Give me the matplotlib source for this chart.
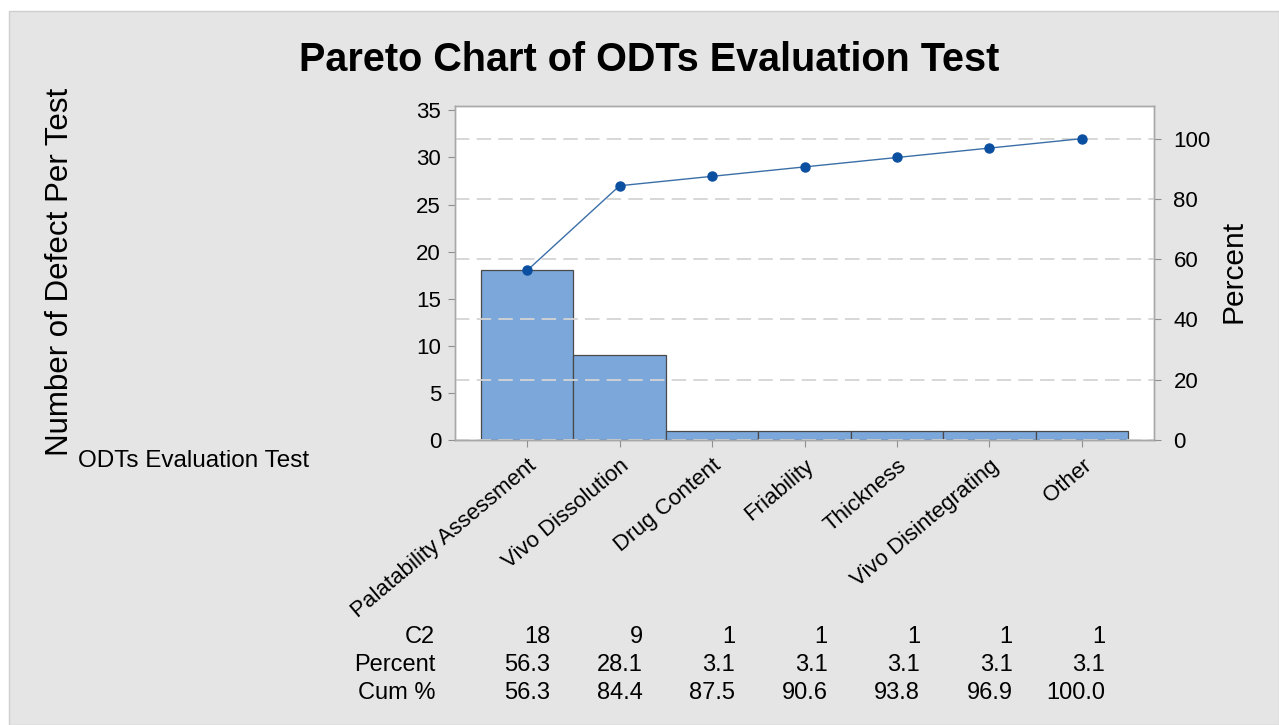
import matplotlib
matplotlib.use("Agg")
import matplotlib.pyplot as plt
import numpy as np
from matplotlib.patches import Rectangle

# data
categories = ['Palatability Assessment', 'Vivo Dissolution', 'Drug Content',
              'Friability', 'Thickness', 'Vivo Disintegrating', 'Other']
counts = [18, 9, 1, 1, 1, 1, 1]
percent_labels = ['56.3', '28.1', '3.1', '3.1', '3.1', '3.1', '3.1']
cum_labels = ['56.3', '84.4', '87.5', '90.6', '93.8', '96.9', '100.0']
left_ticks = [0, 5, 10, 15, 20, 25, 30, 35]
right_ticks = [0, 20, 40, 60, 80, 100]

plt.rcParams['font.family'] = ['Liberation Sans', 'DejaVu Sans']

W, H = 1279, 725
fig = plt.figure(figsize=(W / 100, H / 100), dpi=100)
fig.patch.set_facecolor('white')
# gray panel like the Minitab graph window
fig.patches.append(Rectangle((9 / W, 0), 1 - 9 / W, 1 - 11 / H, transform=fig.transFigure,
                             facecolor='#e5e5e5', edgecolor='#cfcfcf', lw=1, zorder=-10))

ax = fig.add_axes([455 / W, 1 - 440 / H, (1154 - 455) / W, (440 - 105.7) / H])
ax.set_facecolor('white')

x = np.arange(len(categories))
total = sum(counts)
cum = np.cumsum(counts) / total * 100

ax.bar(x, counts, width=1.0, color='#7ba7db', edgecolor='#4a4a4a', linewidth=0.9, zorder=3)
ax.set_xlim(-0.78, len(categories) - 1 + 0.78)
ytop = 35.5
ax.set_ylim(0, ytop)
ax.set_yticks(left_ticks)
ax.set_xticks(x)
ax.set_xticklabels(categories, rotation=40, ha='right', va='top', rotation_mode='anchor',
                   fontsize=16)
ax.tick_params(axis='y', labelsize=16, length=5, pad=5, color='#909090')
ax.tick_params(axis='x', length=5, pad=6, color='#909090')

ax2 = ax.twinx()
ax2.set_ylim(0, ytop / total * 100)
ax2.set_yticks(right_ticks)
ax2.tick_params(axis='y', labelsize=16, length=5, pad=9, color='#909090')
ax2.yaxis.grid(True, linestyle=(0, (8, 4)), color='#d4d4d4', linewidth=1.3)
ax2.set_axisbelow(True)
ax2.plot(x, cum, color='#3b6fa8', linewidth=1.0, marker='o', markersize=6.5,
         markerfacecolor='#0b4fa0', markeredgecolor='#0b4fa0', zorder=5)
ax.set_zorder(ax2.get_zorder() - 1)
ax2.patch.set_visible(False)

for a in (ax, ax2):
    for s in a.spines.values():
        s.set_color('#a8a8a8')
        s.set_linewidth(1.0)
ax.spines['bottom'].set_color('#8a8a8a')

# titles and labels
fig.text(649 / W, 1 - 60 / H, 'Pareto Chart of ODTs Evaluation Test', ha='center', va='center',
         fontsize=28.5, fontweight='bold')
fig.text(60 / W, 1 - 271.5 / H, 'Number of Defect Per Test', rotation=90, ha='center',
         va='center', fontsize=22.5)
fig.text(1234 / W, 1 - 271.5 / H, 'Percent', rotation=90, ha='center', va='center', fontsize=21.5)
fig.text(78 / W, 1 - 461 / H, 'ODTs Evaluation Test', ha='left', va='center', fontsize=17.5)

# table under the chart
row_names = ['C2', 'Percent', 'Cum %']
row_vals = [[str(c) for c in counts], percent_labels, cum_labels]
row_y = [637, 665, 693]
trans = matplotlib.transforms.blended_transform_factory(ax.transData, fig.transFigure)
for name, vals, yy in zip(row_names, row_vals, row_y):
    fy = 1 - yy / H
    fig.text(435 / W, fy, name, ha='right', va='center', fontsize=17)
    for i, v in enumerate(vals):
        ax.text(x[i] + 0.25, fy, v, transform=trans, ha='right', va='center', fontsize=17,
                clip_on=False)

fig.savefig('out.png', dpi=100, facecolor=fig.get_facecolor())
